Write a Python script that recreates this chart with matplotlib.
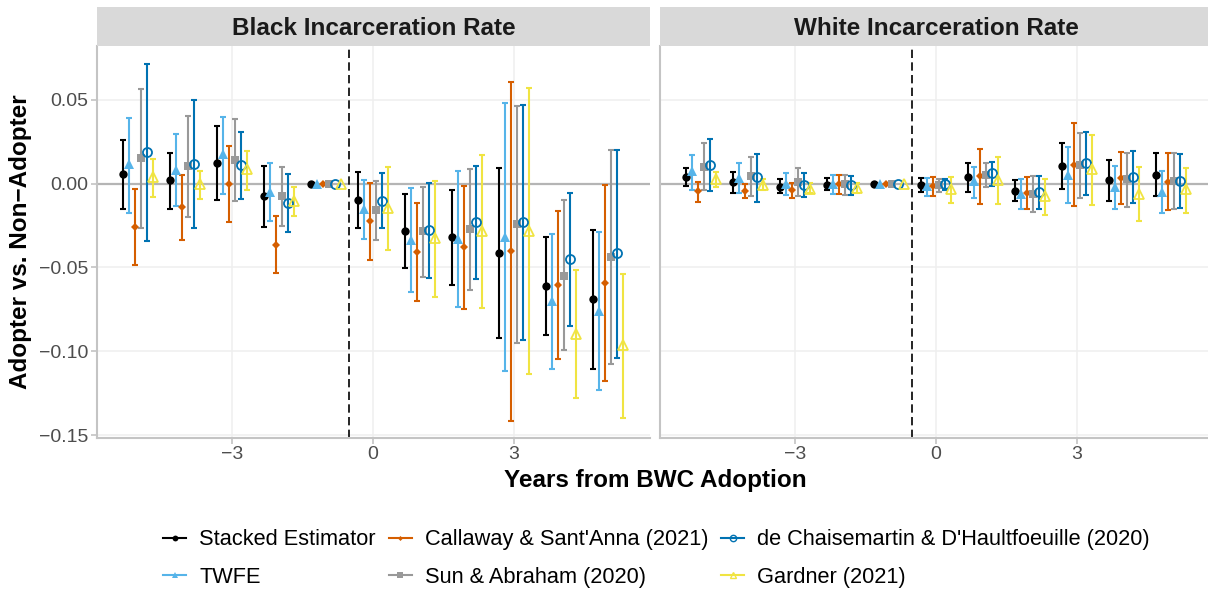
import matplotlib
matplotlib.use("Agg")
import matplotlib.pyplot as plt
from matplotlib.lines import Line2D
import numpy as np

plt.rcParams['font.family'] = ['Liberation Sans', 'DejaVu Sans']

years = [-5, -4, -3, -2, -1, 0, 1, 2, 3, 4, 5]
panels = ["Black Incarceration Rate", "White Incarceration Rate"]
estimators = ["Stacked Estimator", "TWFE", "Callaway & Sant'Anna (2021)",
              "Sun & Abraham (2020)", "de Chaisemartin & D'Haultfoeuille (2020)",
              "Gardner (2021)"]
colors = ["#000000", "#56B4E9", "#D55E00", "#999999", "#0072B2", "#F0E442"]

# ---- Black incarceration rate ----
black_stacked_est = [0.0056, 0.002, 0.0125, -0.0074, 0, -0.0098, -0.0283, -0.0319, -0.0414, -0.061, -0.0691]
black_stacked_lo = [-0.015, -0.015, -0.0098, -0.0257, 0, -0.0263, -0.0502, -0.0606, -0.092, -0.0902, -0.1108]
black_stacked_hi = [0.026, 0.0185, 0.0345, 0.0108, 0, 0.0068, -0.0062, -0.0036, 0.0092, -0.0319, -0.0277]

black_twfe_est = [0.0116, 0.0082, 0.0175, -0.0048, 0, -0.0153, -0.0333, -0.0327, -0.0315, -0.0699, -0.0757]
black_twfe_lo = [-0.0175, -0.0133, -0.0064, -0.0225, 0, -0.0331, -0.0645, -0.0737, -0.112, -0.1106, -0.1233]
black_twfe_hi = [0.039, 0.0295, 0.040, 0.0125, 0, 0.0022, -0.0024, 0.0078, 0.0484, -0.0299, -0.0289]

black_cs_est = [-0.0257, -0.0137, -0.0002, -0.0363, 0, -0.0223, -0.0406, -0.0378, -0.0402, -0.0604, -0.059]
black_cs_lo = [-0.0486, -0.0335, -0.0231, -0.0534, 0, -0.0454, -0.0699, -0.0749, -0.1414, -0.1048, -0.1177]
black_cs_hi = [-0.0034, 0.0052, 0.0225, -0.0191, 0, 0.0006, -0.0116, -0.0012, 0.0608, -0.0161, -0.0006]

black_sa_est = [0.0151, 0.0106, 0.0139, -0.0074, 0, -0.0157, -0.0285, -0.0273, -0.0243, -0.0548, -0.0438]
black_sa_lo = [-0.0263, -0.0201, -0.0104, -0.0251, 0, -0.0335, -0.0556, -0.0633, -0.095, -0.0994, -0.1074]
black_sa_hi = [0.0566, 0.0406, 0.0386, 0.010, 0, 0.0018, -0.0018, 0.009, 0.0464, -0.0096, 0.0201]

black_dcdh_est = [0.0189, 0.0118, 0.011, -0.0114, 0, -0.0102, -0.0277, -0.0229, -0.0231, -0.0452, -0.0416]
black_dcdh_lo = [-0.0343, -0.0265, -0.009, -0.0289, 0, -0.0267, -0.0564, -0.057, -0.0934, -0.0851, -0.1038]
black_dcdh_hi = [0.0715, 0.0498, 0.0307, 0.006, 0, 0.0064, 0.0006, 0.0108, 0.0472, -0.0054, 0.0201]

black_gardner_est = [0.0042, -0.0004, 0.0088, -0.0104, 0, -0.0143, -0.0323, -0.0283, -0.0281, -0.0894, -0.0962]
black_gardner_lo = [-0.0078, -0.0092, -0.0038, -0.0195, 0, -0.0396, -0.0675, -0.0741, -0.1135, -0.1279, -0.1398]
black_gardner_hi = [0.015, 0.0074, 0.0195, -0.0018, 0, 0.0102, 0.0018, 0.0173, 0.057, -0.0516, -0.0538]

# ---- White incarceration rate ----
white_stacked_est = [0.0042, 0.001, -0.0018, -0.0006, 0, -0.0008, 0.0038, -0.0042, 0.0104, 0.002, 0.0054]
white_stacked_lo = [-0.0014, -0.0054, -0.0058, -0.0038, 0, -0.0048, -0.005, -0.0104, -0.0034, -0.0104, -0.0072]
white_stacked_hi = [0.0096, 0.0072, 0.0026, 0.0032, 0, 0.0032, 0.0125, 0.0022, 0.0245, 0.0143, 0.0181]

white_twfe_est = [0.0078, 0.0034, -0.0002, -0.0002, 0, -0.0014, 0.0014, -0.0064, 0.005, -0.0022, -0.0048]
white_twfe_lo = [-0.0038, -0.0058, -0.007, -0.006, 0, -0.0074, -0.0088, -0.0151, -0.0114, -0.0153, -0.0173]
white_twfe_hi = [0.0171, 0.0122, 0.0066, 0.0052, 0, 0.0036, 0.01, 0.0026, 0.0217, 0.0108, 0.0076]

white_cs_est = [-0.0044, -0.0044, -0.0038, -0.0004, 0, -0.0012, 0.0046, -0.0058, 0.0114, 0.0034, 0.0012]
white_cs_lo = [-0.0108, -0.0088, -0.0088, -0.006, 0, -0.0074, -0.0118, -0.0153, -0.0133, -0.0122, -0.0157]
white_cs_hi = [0.001, -0.0002, 0.0006, 0.005, 0, 0.0038, 0.0209, 0.004, 0.0363, 0.0191, 0.0185]

white_sa_est = [0.0098, 0.0046, 0.001, -0.0002, 0, -0.0006, 0.005, -0.0064, 0.011, 0.0026, 0.0018]
white_sa_lo = [-0.0038, -0.0074, -0.0074, -0.0068, 0, -0.0048, -0.0022, -0.0171, -0.0086, -0.0141, -0.0153]
white_sa_hi = [0.0241, 0.0159, 0.0092, 0.0054, 0, 0.003, 0.0125, 0.0048, 0.0303, 0.0181, 0.0185]

white_dcdh_est = [0.0114, 0.0038, -0.001, -0.001, 0, -0.0002, 0.0062, -0.005, 0.0124, 0.004, 0.0016]
white_dcdh_lo = [-0.0042, -0.0108, -0.0082, -0.0066, 0, -0.0038, -0.0014, -0.0149, -0.007, -0.0114, -0.0147]
white_dcdh_hi = [0.0265, 0.0177, 0.0062, 0.0046, 0, 0.003, 0.0127, 0.0048, 0.0311, 0.0193, 0.0175]

white_gardner_est = [0.0026, -0.0008, -0.003, -0.0026, 0, -0.0034, 0.002, -0.0074, 0.0088, -0.006, -0.0034]
white_gardner_lo = [-0.0018, -0.0038, -0.0058, -0.0058, 0, -0.0114, -0.0122, -0.0185, -0.0127, -0.0225, -0.0173]
white_gardner_hi = [0.007, 0.003, 0.0002, 0.0006, 0, 0.0042, 0.0161, 0.003, 0.0293, 0.0102, 0.0096]

black_series = [
    (black_stacked_est, black_stacked_lo, black_stacked_hi),
    (black_twfe_est, black_twfe_lo, black_twfe_hi),
    (black_cs_est, black_cs_lo, black_cs_hi),
    (black_sa_est, black_sa_lo, black_sa_hi),
    (black_dcdh_est, black_dcdh_lo, black_dcdh_hi),
    (black_gardner_est, black_gardner_lo, black_gardner_hi),
]
white_series = [
    (white_stacked_est, white_stacked_lo, white_stacked_hi),
    (white_twfe_est, white_twfe_lo, white_twfe_hi),
    (white_cs_est, white_cs_lo, white_cs_hi),
    (white_sa_est, white_sa_lo, white_sa_hi),
    (white_dcdh_est, white_dcdh_lo, white_dcdh_hi),
    (white_gardner_est, white_gardner_lo, white_gardner_hi),
]

# marker styles: (marker, size, filled)
marker_styles = [("o", 6.0, True), ("^", 6.5, True), ("D", 3.6, True),
                 ("s", 5.5, True), ("o", 6.5, False), ("^", 7.0, False)]
offsets = [-0.3125, -0.1875, -0.0625, 0.0625, 0.1875, 0.3125]

W, H = 1208, 590
fig = plt.figure(figsize=(W / 100, H / 100), dpi=100)

panel_top, panel_bot = 45.7, 437.7
axes_px = [(97, 553), (660, 548)]
xlims = [(-5.872, 5.894), (-5.872, 5.787)]
ylim = (-0.1516, 0.0824)

grid_col = "#efefef"
axis_col = "#c4c4c4"
tick_lab_col = "#4d4d4d"

for i, (series, title) in enumerate(zip([black_series, white_series], panels)):
    x0, w = axes_px[i]
    ax = fig.add_axes([x0 / W, (H - panel_bot) / H, w / W, (panel_bot - panel_top) / H])
    ax.set_xlim(*xlims[i])
    ax.set_ylim(*ylim)
    ax.set_xticks([-3, 0, 3])
    ax.set_yticks([0.05, 0.0, -0.05, -0.10, -0.15])
    ax.set_axisbelow(True)
    ax.grid(True, color=grid_col, lw=1.1)
    for s in ["top", "right"]:
        ax.spines[s].set_visible(False)
    for s in ["left", "bottom"]:
        ax.spines[s].set_color(axis_col)
        ax.spines[s].set_linewidth(1.5)
    ax.tick_params(axis="both", colors=axis_col, labelcolor=tick_lab_col,
                   labelsize=14, length=4, width=1.2, pad=2)
    if i == 0:
        ax.set_yticklabels(["0.05", "0.00", "\u22120.05", "\u22120.10", "\u22120.15"])
    else:
        ax.tick_params(axis="y", left=False, labelleft=False)
    ax.set_xticklabels(["\u22123", "0", "3"])

    ax.axhline(0, color="#b5b5b5", lw=1.6, zorder=1)
    ax.axvline(-0.5, color="black", lw=1.2, linestyle=(0, (5, 2.6)), zorder=2)

    for k, (est, lo, hi) in enumerate(series):
        xs = np.array(years) + offsets[k]
        est = np.array(est)
        lo = np.array(lo)
        hi = np.array(hi)
        c = colors[k]
        mk, ms, filled = marker_styles[k]
        mask = (hi - lo) > 0
        ax.errorbar(xs[mask], est[mask], yerr=[est[mask] - lo[mask], hi[mask] - est[mask]],
                    fmt="none", ecolor=c, elinewidth=1.5, capsize=2.0, capthick=1.5, zorder=3)
        ax.plot(xs, est, linestyle="none", marker=mk, markersize=ms,
                markerfacecolor=c if filled else "none", markeredgecolor=c,
                markeredgewidth=0 if filled else 1.3, zorder=4)

    # strip
    sax = fig.add_axes([x0 / W, (H - panel_top) / H, w / W, 38.4 / H])
    sax.set_xlim(0, 1)
    sax.set_ylim(0, 1)
    sax.set_facecolor("#d9d9d9")
    for s in sax.spines.values():
        s.set_visible(False)
    sax.set_xticks([])
    sax.set_yticks([])
    center = 0.5 if i == 0 else (553 / 2) / w
    sax.text(center, 0.46, title, ha="center", va="center", fontsize=17.5,
             fontweight="bold", color="#1a1a1a")

fig.text(655 / W, (H - 480) / H, "Years from BWC Adoption", ha="center", va="center",
         fontsize=17.5, fontweight="bold")
fig.text(21 / W, (H - 242) / H, "Adopter vs. Non\u2212Adopter", ha="center", va="center",
         rotation=90, fontsize=17.5, fontweight="bold")

handles = []
for k, name in enumerate(estimators):
    mk, ms, filled = marker_styles[k]
    c = colors[k]
    handles.append(Line2D([0], [0], color=c, lw=1.5, marker=mk, markersize=ms * 0.7,
                          markerfacecolor=c if filled else "none", markeredgecolor=c,
                          markeredgewidth=0 if filled else 1.0, label=name))

leg = fig.legend(handles=handles, loc="center", ncol=3, frameon=False,
                 bbox_to_anchor=(656.5 / W, (H - 558.5) / H), fontsize=15.7,
                 handlelength=1.05, handletextpad=0.6, columnspacing=0.6,
                 labelspacing=0.74, borderpad=0)

fig.savefig("out.png", dpi=100)
